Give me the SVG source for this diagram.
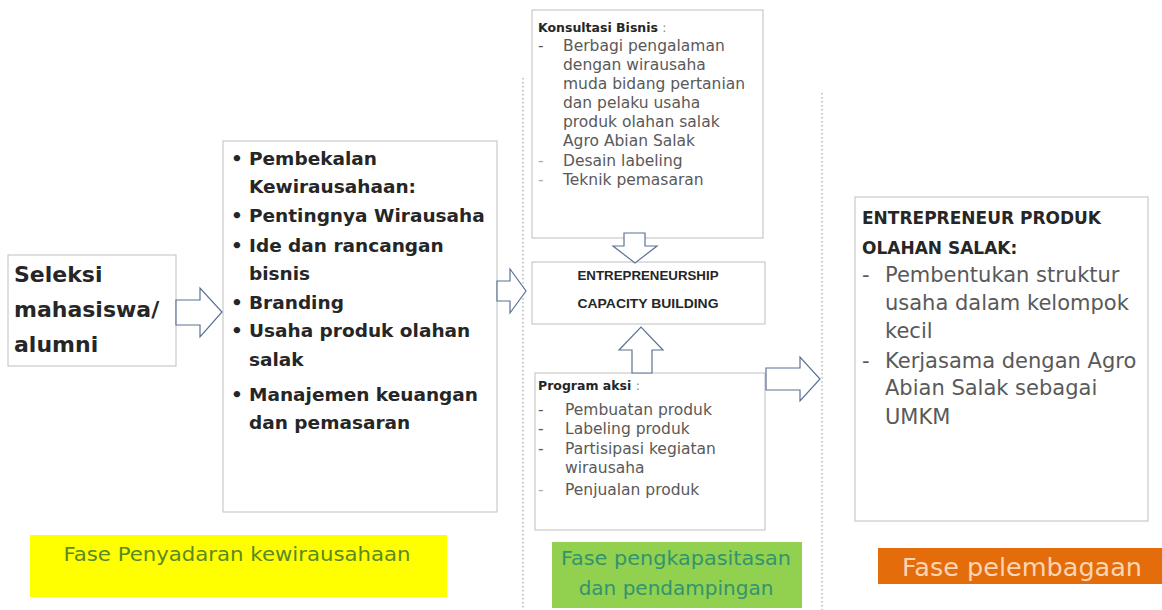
<svg xmlns="http://www.w3.org/2000/svg" width="1162" height="610" viewBox="0 0 1162 610">
<style>
.box{fill:#fff;stroke:#bfbfbf;stroke-width:1}
.arr{fill:#fff;stroke:#5b7194;stroke-width:1.2;stroke-linejoin:miter}
.dot{stroke:#a6a6a6;stroke-width:1.2;stroke-dasharray:1.5 2.5;fill:none}
.b{font-family:"DejaVu Sans",sans-serif;font-weight:bold;fill:#262626}
.r{font-family:"DejaVu Sans",sans-serif;fill:#595959}
.ecb{font-family:"Liberation Sans",Arial,sans-serif;font-weight:bold;font-size:12px;fill:#262626}
</style>
<rect width="1162" height="610" fill="#fff"/>
<g id="guides">
<line class="dot" x1="523" y1="78" x2="523" y2="610"/>
<line class="dot" x1="822" y1="93" x2="822" y2="610"/>
</g>
<g id="seleksi">
<rect class="box" x="8" y="255" width="168" height="111"/>
<text class="b" font-size="22" x="14" y="282">Seleksi</text>
<text class="b" font-size="22" x="14" y="317">mahasiswa/</text>
<text class="b" font-size="22" x="14" y="352">alumni</text>
</g>
<g id="pembekalan">
<rect class="box" x="223" y="141" width="274" height="371"/>
<g class="b" font-size="18.5">
<text x="231" y="165">•</text><text x="249" y="165">Pembekalan</text>
<text x="249" y="193">Kewirausahaan:</text>
<text x="231" y="222">•</text><text x="249" y="222">Pentingnya Wirausaha</text>
<text x="231" y="252">•</text><text x="249" y="252">Ide dan rancangan</text>
<text x="249" y="280">bisnis</text>
<text x="231" y="309">•</text><text x="249" y="309">Branding</text>
<text x="231" y="337">•</text><text x="249" y="337">Usaha produk olahan</text>
<text x="249" y="366">salak</text>
<text x="231" y="401">•</text><text x="249" y="401">Manajemen keuangan</text>
<text x="249" y="429">dan pemasaran</text>
</g>
</g>
<g id="konsultasi">
<rect class="box" x="532" y="10" width="231" height="228"/>
<text class="b" font-size="12.5" x="538" y="32">Konsultasi Bisnis <tspan fill="#888" font-weight="normal">:</tspan></text>
<g class="r" font-size="15.5">
<text x="538" y="51">-</text><text x="563" y="51">Berbagi pengalaman</text>
<text x="563" y="70">dengan wirausaha</text>
<text x="563" y="89">muda bidang pertanian</text>
<text x="563" y="108">dan pelaku usaha</text>
<text x="563" y="127">produk olahan salak</text>
<text x="563" y="146">Agro Abian Salak</text>
<text x="538" y="166" fill="#aaa">-</text><text x="563" y="166">Desain labeling</text>
<text x="538" y="185" fill="#aaa">-</text><text x="563" y="185">Teknik pemasaran</text>
</g>
</g>
<g id="ecb">
<rect class="box" x="532" y="262" width="233" height="62"/>
<text class="ecb" x="648" y="280" text-anchor="middle" textLength="141" lengthAdjust="spacingAndGlyphs">ENTREPRENEURSHIP</text>
<text class="ecb" x="648" y="308" text-anchor="middle" textLength="141" lengthAdjust="spacingAndGlyphs">CAPACITY BUILDING</text>
</g>
<g id="program">
<rect class="box" x="535" y="373" width="230" height="157"/>
<text class="b" font-size="12.5" x="538" y="390">Program aksi <tspan fill="#888" font-weight="normal">:</tspan></text>
<g class="r" font-size="15.5">
<text x="538" y="415">-</text><text x="565" y="415">Pembuatan produk</text>
<text x="538" y="434">-</text><text x="565" y="434">Labeling produk</text>
<text x="538" y="454">-</text><text x="565" y="454">Partisipasi kegiatan</text>
<text x="565" y="473">wirausaha</text>
<text x="538" y="495" fill="#aaa">-</text><text x="565" y="495">Penjualan produk</text>
</g>
</g>
<g id="entrepreneur">
<rect class="box" x="855" y="197" width="293" height="324"/>
<text class="b" font-size="17" x="862" y="224">ENTREPRENEUR PRODUK</text>
<text class="b" font-size="17" x="862" y="254">OLAHAN SALAK:</text>
<g class="r" font-size="21">
<text x="862" y="282">-</text><text x="885" y="282">Pembentukan struktur</text>
<text x="885" y="310">usaha dalam kelompok</text>
<text x="885" y="338">kecil</text>
<text x="862" y="368">-</text><text x="885" y="368">Kerjasama dengan Agro</text>
<text x="885" y="395">Abian Salak sebagai</text>
<text x="885" y="424">UMKM</text>
</g>
</g>
<g id="fase-penyadaran">
<rect x="30" y="535" width="417" height="62" fill="#ffff00"/>
<text x="237" y="561" text-anchor="middle" font-family="DejaVu Sans, sans-serif" font-size="20" fill="#5a8a22" textLength="347" lengthAdjust="spacingAndGlyphs">Fase Penyadaran kewirausahaan</text>
</g>
<g id="fase-pengkapasitasan">
<rect x="552" y="542" width="250" height="66" fill="#92d050"/>
<text x="676" y="565" text-anchor="middle" font-family="DejaVu Sans, sans-serif" font-size="20" fill="#31946f" textLength="230" lengthAdjust="spacingAndGlyphs">Fase pengkapasitasan</text>
<text x="676" y="595" text-anchor="middle" font-family="DejaVu Sans, sans-serif" font-size="20" fill="#31946f">dan pendampingan</text>
</g>
<g id="fase-pelembagaan">
<rect x="878" y="548" width="284" height="36" fill="#e46c0a"/>
<text x="1022" y="576" text-anchor="middle" font-family="DejaVu Sans, sans-serif" font-size="24" fill="#fcd5b4" textLength="240" lengthAdjust="spacingAndGlyphs">Fase pelembagaan</text>
</g>
<g id="connectors">
<path class="arr" d="M176,300 H200 V288 L222,312 L200,337 V325 H176 Z"/>
<path class="arr" d="M497,281 H510 V269 L526,291 L510,313 V301 H497 Z"/>
<path class="arr" d="M624,233 H645 V246 H657 L635,263 L613,246 H624 Z"/>
<path class="arr" d="M632,373 V350 H619 L641,327 L663,350 H652 V373 Z"/>
<path class="arr" d="M766,368 H800 V357 L820,379 L800,401 V390 H766 Z"/>
</g>
</svg>
